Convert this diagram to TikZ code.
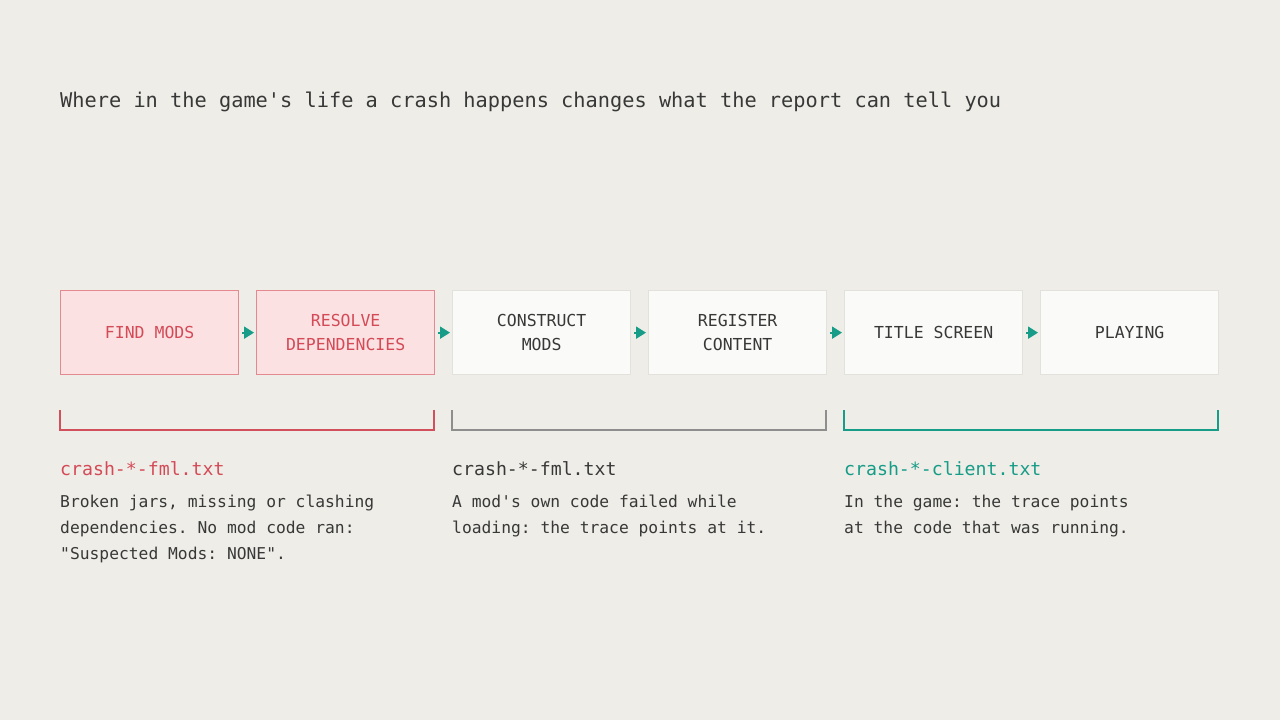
\documentclass[tikz,border=0pt]{standalone}
\usepackage{fontspec}
\setmonofont{DejaVu Sans Mono}
\usetikzlibrary{arrows.meta,calc}
\definecolor{bg}{HTML}{EEEDE7}
\definecolor{pinkfill}{HTML}{FBE1E1}
\definecolor{pinkdraw}{HTML}{E38A90}
\definecolor{redtxt}{HTML}{D44A57}
\definecolor{whitefill}{HTML}{FAFAF8}
\definecolor{whitedraw}{HTML}{E2E1DB}
\definecolor{darktxt}{HTML}{383838}
\definecolor{graybr}{HTML}{8E8E8E}
\definecolor{teal}{HTML}{169C87}
\definecolor{redbr}{HTML}{D2505C}
\tikzset{
  stage/.style={rectangle, anchor=north west, minimum width=178pt, minimum height=84pt,
    inner sep=0pt, align=center, font=\fontsize{16.5}{24}\selectfont\ttfamily, line width=1.3pt},
  hot/.style={stage, fill=pinkfill, draw=pinkdraw, text=redtxt},
  cold/.style={stage, fill=whitefill, draw=whitedraw, text=darktxt},
  flow/.style={draw=teal, line width=2pt, -{Triangle[length=10pt,width=12pt]}, shorten <=3pt, shorten >=2pt},
  bracket/.style={line width=2pt},
  fname/.style={anchor=base west, inner sep=0pt, font=\fontsize{18.2}{24}\selectfont\ttfamily},
  body/.style={anchor=base west, inner sep=0pt, align=left, text=darktxt, font=\fontsize{16.3}{26}\selectfont\ttfamily},
}
\begin{document}
\begin{tikzpicture}[x=1pt,y=-1pt]
\useasboundingbox[fill=bg] (0,0) rectangle (1280,720);
\node[anchor=base west, inner sep=0pt, text=darktxt, font=\fontsize{20.3}{24}\selectfont\ttfamily]
  (title) at (60,107) {Where in the game's life a crash happens changes what the report can tell you};

\node[hot]  (s1) at (60,290)   {FIND MODS};
\node[hot]  (s2) at (256,290)  {RESOLVE\\DEPENDENCIES};
\node[cold] (s3) at (452,290)  {CONSTRUCT\\MODS};
\node[cold] (s4) at (648,290)  {REGISTER\\CONTENT};
\node[cold] (s5) at (844,290)  {TITLE SCREEN};
\node[cold] (s6) at (1040,290) {PLAYING};

\foreach \a/\b in {s1/s2,s2/s3,s3/s4,s4/s5,s5/s6}
  \draw[flow] (\a.east) -- (\b.west);

\draw[bracket, draw=redbr]  (60,410) -- (60,430) -- (434,430) -- (434,410);
\draw[bracket, draw=graybr] (452,410) -- (452,430) -- (826,430) -- (826,410);
\draw[bracket, draw=teal]   (844,410) -- (844,430) -- (1218,430) -- (1218,410);

\node[fname, text=redtxt]  (f1) at (60,475)  {crash-*-fml.txt};
\node[fname, text=darktxt] (f2) at (452,475) {crash-*-fml.txt};
\node[fname, text=teal]    (f3) at (844,475) {crash-*-client.txt};

% base anchor of a multi-line node is the baseline of its last line
\node[body] (b1) at (60,559)  {Broken jars, missing or clashing\\dependencies. No mod code ran:\\"Suspected Mods: NONE".};
\node[body] (b2) at (452,533) {A mod's own code failed while\\loading: the trace points at it.};
\node[body] (b3) at (844,533) {In the game: the trace points\\at the code that was running.};
\end{tikzpicture}
\end{document}
